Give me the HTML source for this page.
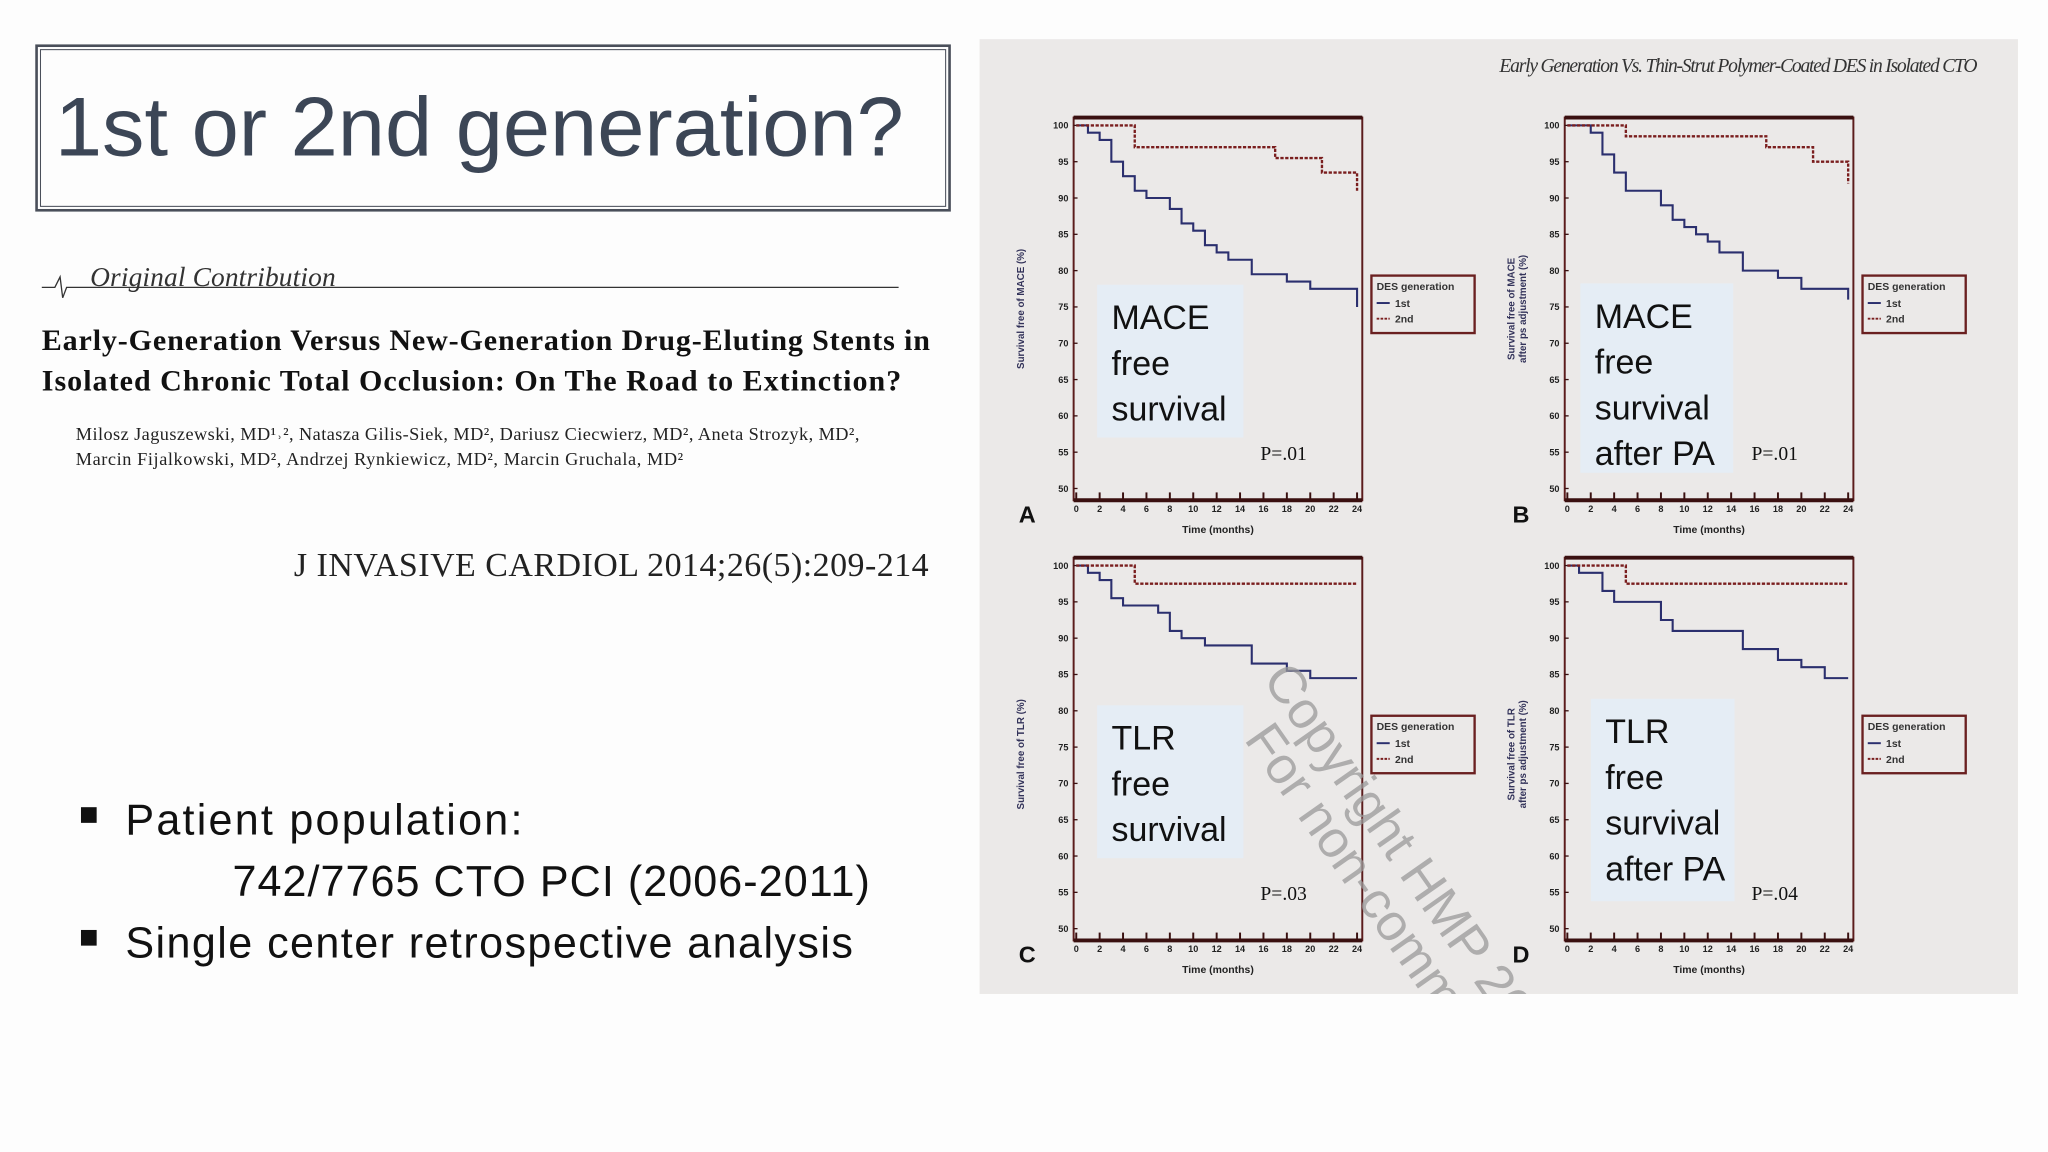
<!DOCTYPE html>
<html><head><meta charset="utf-8"><style>
html,body{margin:0;padding:0;background:#fdfdfd;width:2048px;height:1152px;overflow:hidden;}
svg{display:block;}
</style></head><body>
<svg id="s" width="2048" height="1152" viewBox="0 0 1568 882" xmlns="http://www.w3.org/2000/svg">
<defs><clipPath id="pc"><rect x="750" y="30" width="795" height="731"/></clipPath></defs>
<rect x="0" y="0" width="1568" height="882" fill="#fdfdfd"/>
<g>
<rect x="28" y="35" width="699" height="126" fill="none" stroke="#4a4f5a" stroke-width="2"/>
<rect x="31" y="38" width="693" height="120" fill="none" stroke="#4a4f5a" stroke-width="0.8"/>
<text x="42" y="119" font-family="Liberation Sans, sans-serif" font-size="64" fill="#3c4656" textLength="650" lengthAdjust="spacingAndGlyphs">1st or 2nd generation?</text>
</g>
<g>
<path d="M32 220 H42 L46 212 L48 228 L51 220 H688" fill="none" stroke="#333" stroke-width="1"/>
<text x="69" y="219" font-family="Liberation Serif, serif" font-style="italic" font-size="21" fill="#333" textLength="188">Original Contribution</text>
<text x="32" y="268" font-family="Liberation Serif, serif" font-weight="bold" font-size="23" fill="#111" textLength="680">Early-Generation Versus New-Generation Drug-Eluting Stents in</text>
<text x="32" y="299" font-family="Liberation Serif, serif" font-weight="bold" font-size="23" fill="#111" textLength="658">Isolated Chronic Total Occlusion: On The Road to Extinction?</text>
<text x="58" y="337" font-family="Liberation Serif, serif" font-size="14" fill="#222" textLength="600">Milosz Jaguszewski, MD¹˒²,  Natasza Gilis-Siek, MD²,  Dariusz Ciecwierz, MD²,  Aneta Strozyk, MD²,</text>
<text x="58" y="356" font-family="Liberation Serif, serif" font-size="14" fill="#222" textLength="465">Marcin Fijalkowski, MD²,  Andrzej Rynkiewicz, MD²,  Marcin Gruchala, MD²</text>
<text x="225" y="441" font-family="Liberation Serif, serif" font-size="26" fill="#222" textLength="486">J INVASIVE CARDIOL 2014;26(5):209-214</text>
</g>
<g font-family="Liberation Sans, sans-serif" font-size="33" fill="#111">
<rect x="62" y="618" width="12" height="12" fill="#111"/>
<text x="96" y="639" textLength="304">Patient population:</text>
<text x="178" y="686" textLength="488">742/7765 CTO PCI (2006-2011)</text>
<rect x="62" y="712" width="12" height="12" fill="#111"/>
<text x="96" y="733" textLength="557">Single center retrospective analysis</text>
</g>
<rect x="750" y="30" width="795" height="731" fill="#ebe9e8"/>
<text x="1148" y="55" font-family="Liberation Serif, serif" font-style="italic" font-size="15" fill="#333" textLength="366">Early Generation Vs. Thin-Strut Polymer-Coated DES in Isolated CTO</text>
<g id="charts"></g>
<g clip-path="url(#pc)" font-family="Liberation Sans, sans-serif" font-size="40" fill="#9a9a9a" opacity="0.75">
<text transform="translate(966,520) rotate(55)">Copyright HMP 2014</text>
<text transform="translate(952,566) rotate(55)">For non-commercial use</text>
</g>
</svg>
<script>
const months = [0,2,4,6,8,10,12,14,16,18,20,22,24];
const yTicks = [50,55,60,65,70,75,80,85,90,95,100];
const panelLetters = ["A","B","C","D"];
const yTitles = [["Survival free of MACE (%)"],["Survival free of MACE","after ps adjustment (%)"],["Survival free of TLR (%)"],["Survival free of TLR","after ps adjustment (%)"]];
const overlayLabels = [["MACE","free","survival"],["MACE","free","survival","after PA"],["TLR","free","survival"],["TLR","free","survival","after PA"]];
const pValues = ["P=.01","P=.01","P=.03","P=.04"];
const firstT_A = [0,1,2,3,4,5,6,8,9,10,11,12,13,15,18,20,24];
const firstS_A = [100,99,98,95,93,91,90,88.5,86.5,85.5,83.5,82.5,81.5,79.5,78.5,77.5,77.5];
const secondT_A = [0,5,17,21,24];
const secondS_A = [100,97,95.5,93.5,93.5];
const firstT_B = [0,2,3,4,5,8,9,10,11,12,13,15,18,20,24];
const firstS_B = [100,99,96,93.5,91,89,87,86,85,84,82.5,80,79,77.5,77.5];
const secondT_B = [0,5,17,21,24];
const secondS_B = [100,98.5,97,95,95];
const firstT_C = [0,1,2,3,4,7,8,9,11,15,18,20,24];
const firstS_C = [100,99,98,95.5,94.5,93.5,91,90,89,86.5,85.5,84.5,84.5];
const secondT_C = [0,5,24];
const secondS_C = [100,97.5,97.5];
const firstT_D = [0,1,3,4,8,9,15,18,20,22,24];
const firstS_D = [100,99,96.5,95,92.5,91,88.5,87,86,84.5,84.5];
const secondT_D = [0,5,24];
const secondS_D = [100,97.5,97.5];
const endDrop1 = [75,76,84.5,84.5];
const endDrop2 = [91,92,97.5,97.5];

const firstT=[firstT_A,firstT_B,firstT_C,firstT_D], firstS=[firstS_A,firstS_B,firstS_C,firstS_D];
const secondT=[secondT_A,secondT_B,secondT_C,secondT_D], secondS=[secondS_A,secondS_B,secondS_C,secondS_D];
const NS="http://www.w3.org/2000/svg";
const root=document.getElementById('charts');
function mk(tag,attrs,parent){const e=document.createElementNS(NS,tag);for(const k in attrs)e.setAttribute(k,attrs[k]);parent.appendChild(e);return e;}
const geo=[{x:822,y:90},{x:1198,y:90},{x:822,y:427},{x:1198,y:427}];
const overlay=[[840,218,112,117],[1210,217,117,145],[840,540,112,117],[1218,535,110,155]];
function stepPath(ts,ss,xs,ys,drop){let d="M"+xs(ts[0])+" "+ys(ss[0]);for(let i=1;i<ts.length;i++){d+=" H"+xs(ts[i])+" V"+ys(ss[i]);}d+=" V"+ys(drop);return d;}
function ovText(g,ov,lines){
  lines.forEach((s,i)=>{
    const t=mk('text',{x:ov[0]+11,y:ov[1]+34+i*35,'font-size':26,'font-family':'Liberation Sans, sans-serif',fill:'#111'},g);
    t.textContent=s;
    
    
  });
}
for(let p=0;p<4;p++){
  const g=mk('g',{},root);
  
  
  const fx=geo[p].x, fy=geo[p].y, fw=221, fh=293;
  const x0=fx+2, x1=fx+fw-4, yTop=fy+6, yBot=fy+fh-9;
  const xs=m=>x0+m*(x1-x0)/24;
  const ys=v=>yTop+(100-v)*(yBot-yTop)/50;
  const ov=overlay[p];
  const ob=mk('rect',{x:ov[0],y:ov[1],width:ov[2],height:ov[3],fill:'#e5edf5'},g);
  
  
  const fr=mk('rect',{x:fx,y:fy,width:fw,height:fh,fill:'none',stroke:'#5b1c1c','stroke-width':1.5},g);
  
  
  mk('line',{x1:fx,y1:fy,x2:fx+fw,y2:fy,stroke:'#3a1010','stroke-width':3},g);
  mk('line',{x1:fx,y1:fy+fh,x2:fx+fw,y2:fy+fh,stroke:'#3a1010','stroke-width':3},g);
  yTicks.forEach(v=>{
    mk('line',{x1:fx,y1:ys(v),x2:fx+3,y2:ys(v),stroke:'#3a1010','stroke-width':1},g);
    const t=mk('text',{x:fx-4,y:ys(v)+2.5,'font-size':7,'font-weight':'bold','text-anchor':'end','font-family':'Liberation Sans, sans-serif',fill:'#222'},g);
    t.textContent=v;
    
    
  });
  months.forEach(m=>{
    mk('line',{x1:xs(m),y1:fy+fh,x2:xs(m),y2:fy+fh-6,stroke:'#3a1010','stroke-width':1.5},g);
    const t=mk('text',{x:xs(m),y:fy+fh+9,'font-size':7,'font-weight':'bold','text-anchor':'middle','font-family':'Liberation Sans, sans-serif',fill:'#222'},g);
    t.textContent=m;
    
    
  });
  const xt=mk('text',{x:(fx+fx+fw)/2,y:fy+fh+25,'font-size':8,'font-weight':'bold','text-anchor':'middle','font-family':'Liberation Sans, sans-serif',fill:'#222'},g);
  xt.textContent='Time (months)';
  
  
  const L=mk('text',{x:fx-42+(p%2?2:0),y:fy+fh+17,'font-size':18,'font-weight':'bold','font-family':'Liberation Sans, sans-serif',fill:'#111'},g);
  L.textContent=panelLetters[p];
  
  
  yTitles[p].forEach((s,i)=>{
    const n=yTitles[p].length;
    const t=mk('text',{transform:'translate('+(fx-42+(i-(n-1)/2)*9+ (n>1?8:4))+','+(fy+fh/2+4-(p>1?0:4))+') rotate(-90)','font-size':7.5,'font-weight':'bold','text-anchor':'middle','font-family':'Liberation Sans, sans-serif',fill:'#33335a'},g);
    t.textContent=s;
    
    
  });
  const s1=mk('path',{d:stepPath(firstT[p],firstS[p],xs,ys,endDrop1[p]),fill:'none',stroke:'#2b2f6e','stroke-width':1.6},g);
  
  
  const s2=mk('path',{d:stepPath(secondT[p],secondS[p],xs,ys,endDrop2[p]),fill:'none',stroke:'#7a1e1e','stroke-width':1.8,'stroke-dasharray':'2.5,1.2'},g);
  
  
  ovText(g,ov,overlayLabels[p]);
  const pv=mk('text',{x:fx+143,y:fy+262,'font-size':15,'font-family':'Liberation Serif, serif',fill:'#111'},g);
  pv.textContent=pValues[p];
  
  
  const lx=fx+228, ly=fy+121;
  const lg=mk('g',{},g);
  
  
  mk('rect',{x:lx,y:ly,width:79,height:44,fill:'none',stroke:'#6a2020','stroke-width':1.8},lg);
  const lt=mk('text',{x:lx+4,y:ly+11,'font-size':8,'font-weight':'bold','font-family':'Liberation Sans, sans-serif',fill:'#333'},lg);
  lt.textContent='DES generation';
  
  
  mk('line',{x1:lx+4,y1:ly+21,x2:lx+14,y2:ly+21,stroke:'#2b2f6e','stroke-width':1.5},lg);
  const e1=mk('text',{x:lx+18,y:ly+24,'font-size':8,'font-weight':'bold','font-family':'Liberation Sans, sans-serif',fill:'#333'},lg);
  e1.textContent='1st';
  
  
  mk('line',{x1:lx+4,y1:ly+33,x2:lx+14,y2:ly+33,stroke:'#7a1e1e','stroke-width':1.5,'stroke-dasharray':'2,1'},lg);
  const e2=mk('text',{x:lx+18,y:ly+36,'font-size':8,'font-weight':'bold','font-family':'Liberation Sans, sans-serif',fill:'#333'},lg);
  e2.textContent='2nd';
  
  
}
</script>
</body></html>
